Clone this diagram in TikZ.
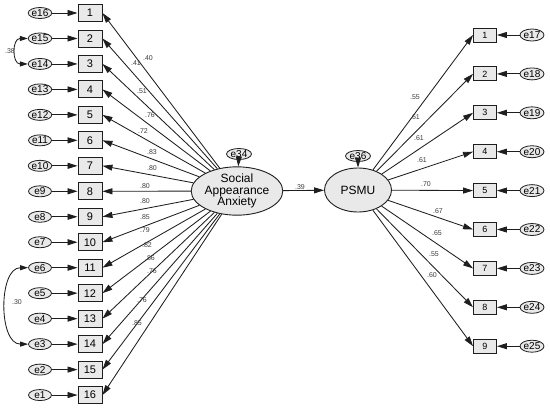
\documentclass[tikz,border=0pt]{standalone}
\usepackage{fontspec}
\setmainfont{Liberation Sans}
\usepackage{xcolor}
\usepackage{tikz}
\usetikzlibrary{arrows.meta,shapes.geometric}
\definecolor{amosfill}{RGB}{233,233,233}
\definecolor{amosline}{RGB}{30,30,30}
\definecolor{amostext}{RGB}{60,60,60}

\begin{document}
\begin{tikzpicture}[x=1pt, y=-1pt,
        itembox/.style={draw=amosline, fill=amosfill, line width=0.9pt, minimum width=24pt,
            minimum height=17pt, inner sep=0pt, font=\fontsize{11}{11}\selectfont},
        smallbox/.style={itembox, minimum width=23pt, minimum height=14pt, font=\fontsize{9}{9}\selectfont},
        errnode/.style={ellipse, draw=amosline, fill=amosfill, line width=0.8pt, minimum width=23pt,
            minimum height=11pt, inner sep=0pt, font=\fontsize{10}{10}\selectfont},
        latent/.style={ellipse, draw=amosline, fill=amosfill, line width=0.9pt, inner sep=0pt,
            align=center, font=\fontsize{12}{11.5}\selectfont},
        loadlbl/.style={inner sep=0pt, text=amostext, font=\fontsize{7}{7}\selectfont},
        regarrow/.style={draw=amosline, line width=0.85pt, -{Triangle[length=10pt,width=6pt]}},
        covarrow/.style={draw=amosline, line width=0.85pt, {Triangle[length=8pt,width=5pt]}-{Triangle[length=8pt,width=5pt]}}
    ]
    \useasboundingbox (0,0) rectangle (550,408);

    \node[latent, minimum width=78pt, minimum height=43pt] (saa) at (237,191) {Social\\Appearance\\Anxiety};
    \node[latent, minimum width=67pt, minimum height=44pt] (psmu) at (358,190) {PSMU};
    \node[errnode, minimum width=25pt] (e34) at (239,154) {e34};
    \node[errnode, minimum width=25pt] (e36) at (358,156) {e36};
    \draw[regarrow] (e34) -- (saa);
    \draw[regarrow] (e36) -- (psmu);
    \draw[regarrow] (saa) -- (psmu);
    \node[loadlbl] (w39) at (300,187) {.39};

    \foreach \i/\w/\lx/\ly in {1/.40/148/58, 2/.41/136/63, 3/.51/142/91, 4/.76/150/115,
            5/.72/143/131, 6/.83/152/152, 7/.80/152/168, 8/.80/145/186, 9/.80/145/201,
            10/.85/145/217, 11/.79/145/230, 12/.82/147/245, 13/.86/150/258, 14/.76/152/271,
            15/.76/142/300, 16/.85/137/323} {
        \pgfmathsetmacro\yy{13+(\i-1)*25.47}
        \pgfmathtruncatemacro\ee{17-\i}
        \node[itembox] (l\i) at (90,\yy) {\i};
        \node[errnode] (e\ee) at (40,\yy) {e\ee};
        \draw[regarrow] (e\ee) -- (l\i);
        \draw[regarrow] (saa) -- (l\i.east);
        \node[loadlbl] (wl\i) at (\lx,\ly) {\w};
    }

    \foreach \j/\w/\lx/\ly in {1/.55/415/97, 2/.61/415/117, 3/.61/419/138, 4/.61/422/160,
            5/.70/426/184, 6/.67/438/211, 7/.65/437/233, 8/.55/434/254, 9/.60/432/275} {
        \pgfmathsetmacro\yy{35+(\j-1)*38.9}
        \pgfmathtruncatemacro\ee{16+\j}
        \node[smallbox] (r\j) at (485,\yy) {\j};
        \node[errnode, minimum width=24pt, minimum height=12pt] (e\ee) at (532,\yy) {e\ee};
        \draw[regarrow] (e\ee) -- (r\j);
        \draw[regarrow] (psmu) -- (r\j.west);
        \node[loadlbl] (wr\j) at (\lx,\ly) {\w};
    }

    \draw[covarrow] (e15.west) to[out=180, in=180, looseness=1.6] (e14.west);
    \node[loadlbl] (c38) at (10,51) {.38};
    \draw[covarrow] (e6.west) to[out=180, in=180, looseness=1] (e3.west);
    \node[loadlbl] (c30) at (17,302) {.30};
\end{tikzpicture}
\end{document}
